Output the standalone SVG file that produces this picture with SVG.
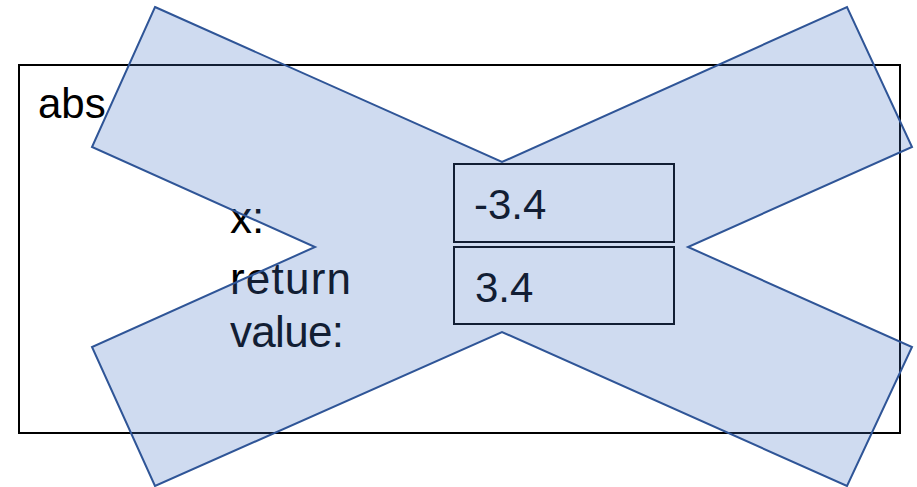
<svg xmlns="http://www.w3.org/2000/svg" width="917" height="487" viewBox="0 0 917 487">
<style>
text{font-family:"Liberation Sans",Arial,sans-serif;font-size:42px;fill:#000}
.lbl{font-size:44px}
.box{fill:#fff;stroke:#000;stroke-width:2}
</style>
<rect width="917" height="487" fill="#fff"/>
<g id="frame">
<rect x="19" y="65" width="881" height="368" fill="none" stroke="#000" stroke-width="2"/>
<text x="38" y="118">abs</text>
</g>
<g id="labels">
<text class="lbl" x="230" y="233">x:</text>
<text class="lbl" x="230" y="294" textLength="121">return</text>
<text class="lbl" x="230" y="347" textLength="114">value:</text>
</g>
<g id="box-x">
<rect class="box" x="454" y="164" width="220" height="78"/>
<text x="474" y="219">-3.4</text>
</g>
<g id="box-return">
<rect class="box" x="454" y="247" width="220" height="77"/>
<text x="475" y="302">3.4</text>
</g>
<g id="cross">
<polygon points="155,7 502,162 847,7 912,147 688,247 912,347 847,486 502,332 155,486 92,347 315,247 92,147" fill="#4472C4" fill-opacity="0.26" stroke="#2F5597" stroke-width="2" stroke-linejoin="miter"/>
</g>
</svg>
